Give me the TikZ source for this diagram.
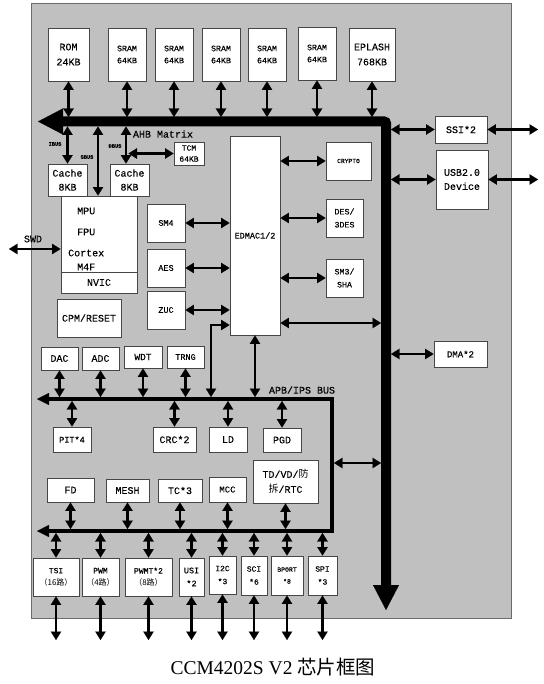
\documentclass[tikz,border=0pt]{standalone}
\usepackage{fontspec}
\setmainfont{Liberation Serif}
\newfontfamily\mono[FakeBold=0.3]{Liberation Mono}
\newfontfamily\cjk{Noto Sans CJK SC}
\usetikzlibrary{arrows.meta}
\definecolor{chipgray}{RGB}{192,192,192}
\definecolor{edge}{RGB}{70,70,70}
\newcommand\mybox[7][]{\node[blk,#1,minimum width={#5-#3},minimum height={#6-#4}] (#2) at ({(#3+#5)/2},{(#4+#6)/2}) {#7};}
\tikzset{
  fz/.style 2 args={font=\mono\fontsize{#1}{#2}\selectfont},
  blk/.style={draw=edge, fill=white, line width=0.9pt, inner sep=0pt, align=center, fz={10}{14}},
  arr/.style={line width=2.6pt, {Triangle[length=8.5pt,width=10.5pt,line width=0.1pt]}-{Triangle[length=8.5pt,width=10.5pt,line width=0.1pt]}},
  mainbus/.style={line width=10pt, rounded corners=2pt, {Triangle[length=25pt,width=26pt,line width=0.1pt]}-{Triangle[length=25pt,width=26pt,line width=0.1pt]}},
  apb/.style={line width=3.8pt, {Triangle[length=12pt,width=12pt,line width=0.1pt]}-{Triangle[length=12pt,width=12pt,line width=0.1pt]}},
  lbl/.style={inner sep=0pt, fz={10}{12}},
  tiny/.style={inner sep=0pt, font=\mono\bfseries\fontsize{5.3}{6}\selectfont}
}
\begin{document}
\begin{tikzpicture}[x=1pt,y=-1pt]
\useasboundingbox (0,0) rectangle (543,684);
% chip background
\filldraw[fill=chipgray, draw=edge!80, line width=1pt] (31,4) rectangle (511,618);

% helper coordinates
\coordinate (bt) at (0,117);
\coordinate (bb) at (0,126.5);
\coordinate (br) at (391,0);
\coordinate (bl) at (381,0);
\coordinate (ox) at (538,0);
\coordinate (apbT) at (0,397);
\coordinate (apbB) at (0,401);
\coordinate (botT) at (0,529);
\coordinate (botB) at (0,533);
\coordinate (oy) at (0,640);
\coordinate (sb) at (98,0);
\coordinate (db) at (126,0);
\coordinate (db2) at (128.5,0);
\coordinate (ey) at (0,323);
\coordinate (ely) at (0,325);
\coordinate (elb) at (211,397);
\coordinate (apbR) at (334,0);
\coordinate (ty) at (0,463);
\coordinate (swd) at (9,249);

% buses
\coordinate (busL) at (38,121.5);
\coordinate (busC) at (386,121.5);
\coordinate (busB) at (386,610);
\draw[mainbus] (busL) -- (busC) -- (busB);
\coordinate (apbL) at (37,399);
\coordinate (apbC) at (332,531);
\coordinate (botL) at (37,531);
\draw[apb] (apbL) -| (apbC) -- (botL);

% memories
\mybox[fz={10}{15}]{rom}{48}{28}{89}{81}{ROM\\24KB}
\mybox[fz={8.3}{12}]{s1}{108}{28}{146}{81}{SRAM\\64KB}
\mybox[fz={8.3}{12}]{s2}{155}{28}{193}{81}{SRAM\\64KB}
\mybox[fz={8.3}{12}]{s3}{202}{28}{240}{81}{SRAM\\64KB}
\mybox[fz={8.3}{12}]{s4}{248}{28}{286}{81}{SRAM\\64KB}
\mybox[fz={8.3}{12}]{s5}{298}{27}{336}{80}{SRAM\\64KB}
\mybox[fz={10}{15}]{efl}{349}{28}{395}{81}{EPLASH\\768KB}
\foreach \n in {rom,s1,s2,s3,s4,s5,efl} \draw[arr] (\n.south) -- (\n.south |- bt);

% CPU side
\mybox[fz={10}{14}]{c1}{48}{164}{87}{196}{Cache\\8KB}
\mybox[fz={10}{14}]{c2}{110}{164}{149}{196}{Cache\\8KB}
\mybox[fz={8}{11}]{tcm}{174}{142}{204}{165}{TCM\\64KB}
\mybox{mpu}{61}{196}{137}{272}{}
\mybox{nvic}{61}{272}{137}{293}{NVIC}
\mybox{cpm}{57}{299}{121}{337}{CPM/RESET}
\node[lbl, anchor=west] (tmpu) at (77,211) {MPU};
\node[lbl, anchor=west] (tfpu) at (77,232) {FPU};
\node[lbl, anchor=west] (tcor) at (68,253) {Cortex};
\node[lbl, anchor=west] (tm4f) at (77,267) {M4F};
\node[lbl] (ahb) at (163,134) {AHB Matrix};
\node[tiny] (ibus) at (55,144) {IBUS};
\node[tiny] (sbus) at (87,157) {SBUS};
\node[tiny] (dbus) at (115,146) {DBUS};
\node[lbl] (tswd) at (33,239) {SWD};
\draw[arr] (c1.north) -- (c1.north |- bb);
\draw[arr] (sb |- bb) -- (sb |- mpu.north);
\draw[arr] (db |- bb) -- (db |- c2.north);
\draw[arr] (db2 |- tcm.west) -- (tcm.west);
\draw[arr] (swd) -- (swd -| mpu.west);

% crypto and DMA
\mybox[fz={8.5}{12}]{sm4}{147}{204}{185}{242}{SM4}
\mybox[fz={8.5}{12}]{aes}{147}{249}{185}{287}{AES}
\mybox[fz={8.5}{12}]{zuc}{147}{291}{185}{329}{ZUC}
\mybox[fz={8.5}{12}]{edmac}{230}{136}{280}{335}{EDMAC1/2}
\mybox[fz={6.3}{8}]{crypto}{326}{142}{371}{180}{CRYPTO}
\mybox[fz={8.3}{13}]{des}{326}{199}{363}{237}{DES/\\3DES}
\mybox[fz={8.3}{13}]{sm3}{326}{259}{363}{297}{SM3/\\SHA}
\foreach \n in {sm4,aes,zuc} \draw[arr] (\n.east) -- (\n.east -| edmac.west);
\foreach \n in {crypto,des,sm3} \draw[arr] (\n.west) -- (\n.west -| edmac.east);
\draw[arr] (edmac.east |- ey) -- (bl |- ey);
\draw[arr] (elb) |- (edmac.west |- ely);
\draw[arr] (edmac.south) -- (edmac.south |- apbT);

% right side
\mybox[fz={10}{14}]{ssi}{435}{116}{487}{143}{SSI*2}
\mybox[fz={10}{14}]{usb}{436}{150}{488}{209}{USB2.0\\Device}
\mybox[fz={9}{12}]{dma}{434}{341}{487}{367}{DMA*2}
\foreach \n in {ssi,usb,dma} \draw[arr] (\n.west -| br) -- (\n.west);
\foreach \n in {ssi,usb} \draw[arr] (\n.east) -- (\n.east -| ox);

% APB peripherals
\node[lbl] (apbtxt) at (302,390) {APB/IPS BUS};
\mybox[fz={10}{12}]{dac}{41}{347}{78}{370}{DAC}
\mybox[fz={10}{12}]{adc}{82}{347}{119}{370}{ADC}
\mybox[fz={9.5}{12}]{wdt}{124}{346}{162}{368}{WDT}
\mybox[fz={8.5}{12}]{trng}{167}{346}{204}{368}{TRNG}
\foreach \n in {dac,adc,wdt,trng} \draw[arr] (\n.south) -- (\n.south |- apbT);
\mybox[fz={8.5}{12}]{pit}{53}{427}{91}{452}{PIT*4}
\mybox[fz={10}{12}]{crc}{153}{427}{196}{452}{CRC*2}
\mybox[fz={10}{12}]{ld}{209}{427}{247}{452}{LD}
\mybox[fz={10}{12}]{pgd}{263}{428}{301}{452}{PGD}
\foreach \n in {pit,crc,ld,pgd} \draw[arr] (\n.north) -- (\n.north |- apbB);
\draw[arr] (apbR |- ty) -- (bl |- ty);

\mybox[fz={10}{15}]{td}{253}{460}{318}{503}{TD/VD/{\cjk 防}\\{\cjk 拆}/RTC}
\mybox[fz={10}{12}]{fd}{47}{478}{94}{502}{FD}
\mybox[fz={10}{12}]{mesh}{106}{479}{149}{502}{MESH}
\mybox[fz={10}{12}]{tc}{158}{479}{202}{502}{TC*3}
\mybox[fz={9}{12}]{mcc}{209}{477}{246}{502}{MCC}
\foreach \n in {fd,mesh,tc,mcc,td} \draw[arr] (\n.south) -- (\n.south |- botT);

\mybox[fz={8}{12}]{tsi}{33}{558}{79}{596}{TSI\\{\cjk （16路）}}
\mybox[fz={8}{12}]{pwm}{82}{558}{119}{596}{PWM\\{\cjk （4路）}}
\mybox[fz={8}{12}]{pwmt}{125}{558}{172}{596}{PWMT*2\\{\cjk （8路）}}
\mybox[fz={8.5}{13}]{usi}{179}{558}{204}{596}{USI\\*2}
\mybox[fz={8}{13}]{i2c}{209}{556}{236}{594}{I2C\\*3}
\mybox[fz={8}{13}]{sci}{241}{556}{267}{595}{SCI\\*6}
\mybox[fz={6.5}{12}]{bport}{271}{556}{303}{595}{BPORT\\*8}
\mybox[fz={8}{13}]{spi}{308}{556}{337}{595}{SPI\\*3}
\foreach \n in {tsi,pwm,pwmt,usi,i2c,sci,bport,spi} {
  \draw[arr] (\n.north |- botB) -- (\n.north);
  \draw[arr] (\n.south) -- (\n.south |- oy);
}

% caption
\node[inner sep=0pt] (cap) at (273,667) {\fontsize{19.5}{22}\selectfont CCM4202S V2 {\cjk 芯片框图}};
\end{tikzpicture}
\end{document}
